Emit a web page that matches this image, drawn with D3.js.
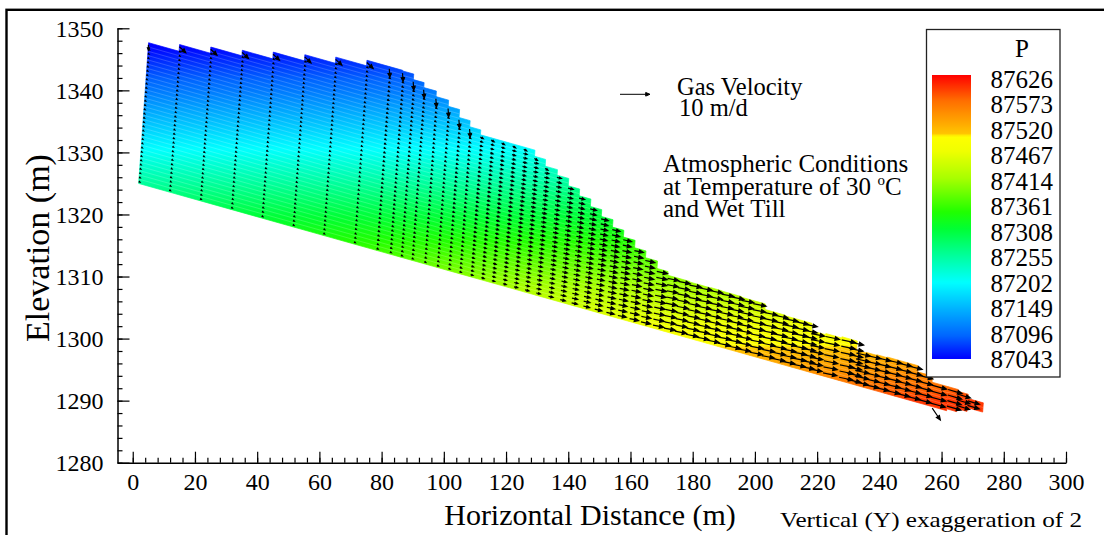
<!DOCTYPE html>
<html><head><meta charset="utf-8">
<script src="https://cdn.jsdelivr.net/npm/d3@7"></script>
<style>
body{margin:0;background:#fff}
svg{display:block}
text{font-family:"Liberation Serif","Times New Roman",serif;fill:#000}
</style>
</head><body>
<svg id="c" width="1104" height="535"></svg>
<script>
// ---------------- DATA ----------------
// mesh columns: start distance along the base (m), top and bottom normal to base (m), number of layers
const colStart = [0, 9.9, 19.9, 30.0, 39.9, 50.0, 59.9, 69.9, 77.2, 81.5, 85.1, 88.6, 92.7, 96.8, 100.5, 104.1,
  107.7, 111.2, 114.6, 118.2, 121.8, 125.4, 129.0, 133.0, 136.8, 140.5, 144.3, 148.0, 151.8, 155.5, 159.3, 163.0,
  166.9, 170.5, 174.0, 177.6, 181.0, 184.5, 188.0, 191.2, 194.5, 198.3, 202.2, 205.5, 208.8, 212.1, 214.8, 217.5,
  222.1, 227.3, 229.8, 232.3, 235.5, 238.8, 242.2, 245.5, 248.8, 252.2, 257.0, 262.3, 265.5, 268.8];
const colEnd = 273.8;
const colThick = [22.9, 24.0, 25.0, 25.9, 27.0, 28.0, 29.0, 29.9, 29.9, 29.8, 28.9, 28.1, 27.2, 26.2, 24.9, 23.9,
  23.1, 23.1, 23.1, 23.1, 23.1, 22.1, 21.0, 20.1, 18.9, 17.8, 16.6, 15.5, 14.3, 13.2, 12.0, 10.9,
  9.7, 9.1, 9.1, 9.0, 9.0, 9.05, 9.0, 9.0, 8.9, 8.9, 8.0, 8.0, 7.9, 7.9, 7.9, 6.7,
  6.9, 7.1, 7.1, 5.6, 5.7, 5.8, 5.9, 5.9, 5.9, 4.9, 3.9, 3.9, 3.6, 2.9];
const colBottom = [0, 0, 0, 0, 0, 0, 0, 0, 0, 0, 0, 0, 0, 0, 0, 0,
  0, 0, 0, 0, 0, 0, 0, 0, 0, 0, 0, 0, 0, 0, 0, 0,
  0, 0, 0, 0, 0, 0, 0, 0, 0, 0, 0, 0, 0, 0, 0, 0,
  0, 0, 0, 0, 0, 0, 0, 0, 0, 0, 0, 0.3, 0.8, 1.4];
const colLayers = [33, 34, 36, 37, 38, 40, 41, 42, 42, 42, 41, 40, 38, 37, 35, 34,
  33, 33, 33, 33, 33, 31, 29, 27, 25, 23, 21, 19, 17, 15, 13, 12,
  10, 9, 9, 9, 9, 9, 9, 9, 9, 9, 8, 8, 8, 8, 8, 7,
  7, 7, 7, 6, 6, 6, 6, 6, 6, 5, 4, 4, 3, 2];
const meshOrigin = [1.9, 1325.0];   // lower-left corner of the mesh (x m, elevation m)
const meshDip = 0.141;              // slope of the base of the mesh

// gas velocity in each column (m/d), horizontal and vertical components
const velX = [0.4, 0.4, 0.4, 0.4, 0.4, 0.4, 0.4, 0.4, 0.5, 0.5, 0.5, 0.5, 0.5, 0.5, 0.6, 0.6,
  0.8, 0.9, 1.0, 1.1, 1.2, 1.3, 1.4, 1.5, 1.7, 1.9, 2.1, 2.4, 2.6, 2.8, 3.0, 3.2,
  3.6, 3.7, 3.9, 4.0, 4.1, 4.0, 4.1, 4.2, 4.1, 4.3, 4.2, 4.4, 4.3, 4.4, 4.6, 4.4,
  4.6, 4.6, 4.7, 4.6, 4.8, 4.7, 4.9, 4.8, 4.9, 5.1, 4.9, 4.6, 4.2, 3.9];
const velY = [-0.25, -0.25, -0.25, -0.25, -0.25, -0.25, -0.25, -0.25, -0.3, -0.3, -0.3, -0.3, -0.3, -0.3, -0.3, -0.3,
  -0.3, -0.3, -0.3, -0.3, -0.3, -0.3, -0.3, -0.35, -0.4, -0.45, -0.5, -0.55, -0.6, -0.6, -0.65, -0.7,
  -0.75, -0.75, -0.8, -0.8, -0.8, -0.8, -0.8, -0.85, -0.8, -0.85, -0.85, -0.9, -0.85, -0.9, -0.9, -0.85,
  -0.95, -0.95, -1.0, -1.0, -1.1, -1.1, -1.15, -1.15, -1.2, -1.35, -1.35, -1.35, -1.25, -1.15];
// top-layer arrows that differ from the column (column index, m/d)
const topArrowCol = [0, 1, 2, 3, 4, 5, 6, 7, 8, 9, 10, 11, 12, 13, 14, 15, 16, 17, 18, 19, 20, 21, 22];
const topArrowVX  = [0, 2.1, 2.1, 2.1, 2.1, 2.1, 2.1, 2.1, 0.2, 0.2, 0.2, 0.2, 0.2, 0.2, 0.2, 0.2, 1.0, 1.0, 1.0, 1.0, 1.0, 1.0, 1.0];
const topArrowVY  = [-1.8, -2.0, -2.0, -2.0, -2.0, -2.0, -2.0, -2.0, -2.8, -2.8, -2.8, -2.8, -2.8, -2.8, -2.8, -2.8, -0.6, -0.6, -0.6, -0.6, -0.6, -0.6, -0.6];
const outflowArrow = [257.0, 1288.8, 2.7, -4.0];   // x, elevation, vx, vy

const pElev = [1348, 1340, 1330, 1320, 1312, 1305, 1300, 1295, 1290];
const pVal  = [87035, 87105, 87205, 87305, 87380, 87445, 87490, 87540, 87600];

// colour legend
const legendLabels = [87626, 87573, 87520, 87467, 87414, 87361, 87308, 87255, 87202, 87149, 87096, 87043];
const cmapP      = [87043, 87090, 87150, 87200, 87255, 87310, 87345, 87414, 87470, 87500, 87506, 87573, 87626];
const cmapColors = ["#0000ff", "#0064ff", "#00b8ff", "#00ffff", "#00ff9c", "#00ff34", "#20ff00", "#a8ff00",
  "#f0ff00", "#ffff00", "#ffc400", "#ff6e00", "#ff0000"];

const xTicks = d3.range(0, 301, 20);
const xMinor = d3.range(0, 301, 4);
const yTicks = d3.range(1280, 1351, 10);
const yMinor = d3.range(1280, 1351, 2);
const arrowLegendSpeed = 10;  // m/d

// ---------------- DRAWING ----------------
const svg = d3.select("#c");
const x = d3.scaleLinear().domain([-4.9, 300]).range([117.5, 1066]);
const y = d3.scaleLinear().domain([1280, 1350]).range([462.7, 28.3]);
const pScale = d3.scaleLinear().domain(pElev).range(pVal).clamp(true);
const cScale = d3.scaleLinear().domain(cmapP).range(cmapColors).clamp(true);
const pxPerMd = 3;

const cosA = 1 / Math.sqrt(1 + meshDip * meshDip), sinA = meshDip * cosA;
function toXY(s, n) { return [meshOrigin[0] + s * cosA + n * sinA, meshOrigin[1] - s * sinA + n * cosA]; }
function P(s, n) { const p = toXY(s, n); return [x(p[0]), y(p[1])]; }

// frame
svg.append("rect").attr("x", 6.5).attr("y", 9.8).attr("width", 1200).attr("height", 600)
  .attr("fill", "none").attr("stroke", "#000").attr("stroke-width", 2.4);

const defs = svg.append("defs");
const fg = defs.append("linearGradient").attr("id", "pgrad").attr("gradientUnits", "userSpaceOnUse")
  .attr("x1", 0).attr("x2", 0).attr("y1", y(1350)).attr("y2", y(1280));
d3.range(1350, 1279.9, -0.5).forEach(e => {
  fg.append("stop").attr("offset", (1350 - e) / 70).attr("stop-color", cScale(pScale(e)));
});
const lg = defs.append("linearGradient").attr("id", "lgrad").attr("x1", 0).attr("x2", 0).attr("y1", 0).attr("y2", 1);
d3.range(87626, 87042, -4).forEach(p => {
  lg.append("stop").attr("offset", (87626 - p) / (87626 - 87043)).attr("stop-color", cScale(p));
});

const cols = colStart.map((s0, i) => ({ i, s0, s1: i < colStart.length - 1 ? colStart[i + 1] : colEnd,
  b: colBottom[i], h: colThick[i], nl: colLayers[i] }));
const gMesh = svg.append("g");
gMesh.selectAll("path.cell").data(cols).join("path")
  .attr("d", c => "M" + [P(c.s0, c.b), P(c.s1, c.b), P(c.s1, c.h), P(c.s0, c.h)].map(p => p.join(",")).join("L") + "Z")
  .attr("fill", "url(#pgrad)").attr("stroke", "url(#pgrad)").attr("stroke-width", 0.7);

// faint layer lines
const rowLines = [];
cols.forEach(c => {
  const dz = (c.h - c.b) / c.nl;
  for (let k = 1; k < c.nl; k++) rowLines.push([P(c.s0, c.b + k * dz), P(c.s1, c.b + k * dz)]);
});
gMesh.selectAll("line.row").data(rowLines).join("line")
  .attr("x1", d => d[0][0]).attr("y1", d => d[0][1]).attr("x2", d => d[1][0]).attr("y2", d => d[1][1])
  .attr("stroke", "#fff").attr("stroke-opacity", 0.3).attr("stroke-width", 0.6);

// arrows
function arrowPath(x0, y0, dx, dy) {
  const L = Math.hypot(dx, dy); if (L < 0.2) return "";
  const ux = dx / L, uy = dy / L, hl = Math.min(4.3, L * 0.45), hw = hl * 0.42;
  const x1 = x0 + dx, y1 = y0 + dy, bx = x1 - ux * hl, by = y1 - uy * hl;
  return `M${x0},${y0}L${bx},${by}M${x1},${y1}L${bx - uy * hw},${by + ux * hw}L${bx + uy * hw},${by - ux * hw}Z`;
}
const arrows = [];
cols.forEach(c => {
  const dz = (c.h - c.b) / c.nl;
  const ti = topArrowCol.indexOf(c.i);
  for (let k = 0; k < c.nl; k++) {
    const n = c.b + (k + 0.5) * dz;
    let vx = velX[c.i], vy = velY[c.i];
    if (k === c.nl - 1 && ti >= 0) { vx = topArrowVX[ti]; vy = topArrowVY[ti]; }
    const p = P(c.s0, n);
    arrows.push(arrowPath(p[0], p[1], vx * pxPerMd, -vy * pxPerMd));
  }
});
arrows.push(arrowPath(x(outflowArrow[0]), y(outflowArrow[1]), outflowArrow[2] * pxPerMd, -outflowArrow[3] * pxPerMd));
svg.append("g").selectAll("path").data(arrows).join("path").attr("d", d => d)
  .attr("stroke", "#000").attr("stroke-width", 1.2).attr("fill", "#000");

// axes
const gy = svg.append("g").attr("transform", `translate(${x(-4.9)},0)`);
gy.call(d3.axisLeft(y).tickValues(yMinor).tickSizeInner(-5).tickSizeOuter(0).tickFormat(""));
gy.call(g => g.select(".domain").remove());
const gy2 = svg.append("g").attr("transform", `translate(${x(-4.9)},0)`);
gy2.call(d3.axisLeft(y).tickValues(yTicks).tickSizeInner(-12).tickSizeOuter(0).tickPadding(14).tickFormat(d3.format("d")));
gy2.selectAll("text").attr("font-size", 24).attr("dy", "0.33em");
const gx = svg.append("g").attr("transform", `translate(0,${y(1280)})`);
gx.call(d3.axisBottom(x).tickValues(xMinor).tickSizeInner(-5).tickSizeOuter(0).tickFormat(""));
gx.call(g => g.select(".domain").remove());
const gx2 = svg.append("g").attr("transform", `translate(0,${y(1280)})`);
gx2.call(d3.axisBottom(x).tickValues(xTicks).tickSizeInner(-11).tickSizeOuter(0).tickPadding(10).tickFormat(d3.format("d")));
gx2.selectAll("text").attr("font-size", 24).attr("dy", "0.71em");
svg.selectAll(".domain").attr("stroke-width", 1.5);
svg.selectAll(".tick line").attr("stroke-width", 1.2);

// axis titles
svg.append("text").attr("transform", "translate(49,248) rotate(-90)").attr("text-anchor", "middle")
  .attr("font-size", 34).text("Elevation (m)");
svg.append("text").attr("x", 590).attr("y", 525).attr("text-anchor", "middle").attr("font-size", 30)
  .text("Horizontal Distance (m)");
svg.append("text").attr("x", 780).attr("y", 527).attr("font-size", 22).attr("textLength", 302)
  .attr("lengthAdjust", "spacingAndGlyphs").text("Vertical (Y) exaggeration of 2");

// velocity legend
svg.append("path").attr("d", arrowPath(620, 94.3, arrowLegendSpeed * pxPerMd, 0))
  .attr("stroke", "#000").attr("stroke-width", 1).attr("fill", "#000");
svg.append("text").attr("x", 677).attr("y", 94.5).attr("font-size", 24.5).text("Gas Velocity");
svg.append("text").attr("x", 679).attr("y", 116).attr("font-size", 24.5).text("10 m/d");
svg.append("text").attr("x", 663).attr("y", 172).attr("font-size", 25).text("Atmospheric Conditions");
const t2 = svg.append("text").attr("x", 663).attr("y", 194.5).attr("font-size", 25);
t2.append("tspan").text("at Temperature of 30 ");
t2.append("tspan").attr("font-size", 15).attr("dy", -10).text("o");
t2.append("tspan").attr("dy", 10).text("C");
svg.append("text").attr("x", 663).attr("y", 217).attr("font-size", 25).text("and Wet Till");

// colour legend
svg.append("rect").attr("x", 926.5).attr("y", 29.5).attr("width", 133.5).attr("height", 347.5)
  .attr("fill", "#fff").attr("stroke", "#222").attr("stroke-width", 1.3);
svg.append("rect").attr("x", 932).attr("y", 75).attr("width", 39).attr("height", 284).attr("fill", "url(#lgrad)");
svg.append("text").attr("x", 1022).attr("y", 56.5).attr("text-anchor", "middle").attr("font-size", 25).text("P");
const ly = d3.scaleLinear().domain([87626, 87043]).range([87.8, 368.3]);
svg.append("g").selectAll("text").data(legendLabels).join("text")
  .attr("x", 990.5).attr("y", d => ly(d)).attr("font-size", 25).text(d => d);
</script>
</body></html>
